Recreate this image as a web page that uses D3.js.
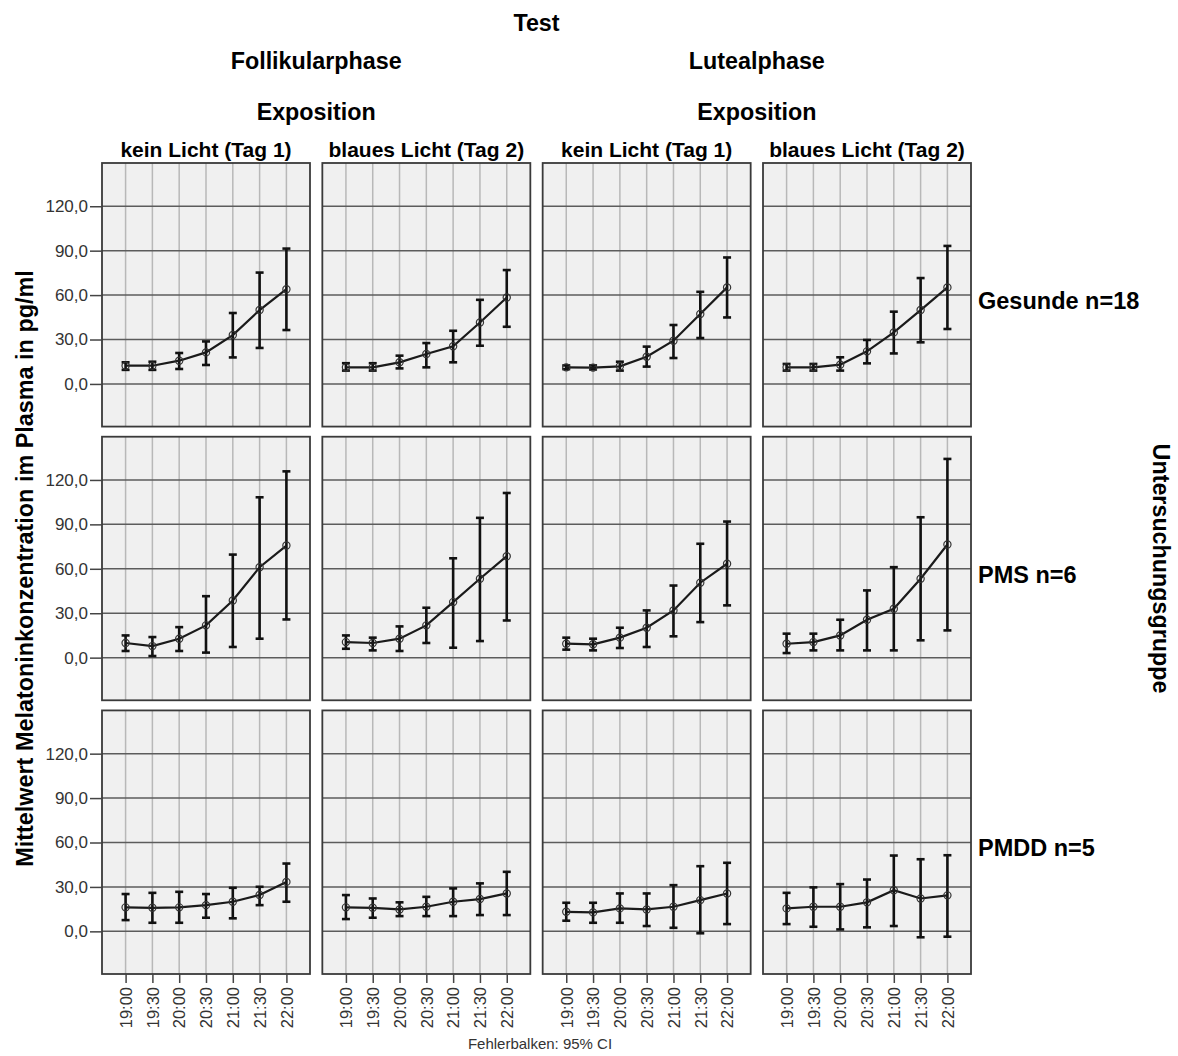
<!DOCTYPE html>
<html>
<head>
<meta charset="utf-8">
<script src="https://cdn.jsdelivr.net/npm/d3@7"></script>
<style>
  body { margin: 0; background: #fff; }
  text { font-family: Arial, "Liberation Sans", sans-serif; }
</style>
</head>
<body>
<svg id="chart" width="1178" height="1056"></svg>
<script>
const times = ['19:00', '19:30', '20:00', '20:30', '21:00', '21:30', '22:00'];
const phases = ['Follikularphase', 'Lutealphase'];
const exposures = ['kein Licht (Tag 1)', 'blaues Licht (Tag 2)'];
const groups = ['Gesunde n=18', 'PMS n=6', 'PMDD n=5'];
const yTicks = [0, 30, 60, 90, 120];

// one row per column panel: Follikular kein/blau, Luteal kein/blau
const meanGesunde = [
  [12.3, 12.3, 15.7, 21.3, 33.0, 49.9, 64.0],
  [11.2, 11.2, 14.6, 20.2, 25.4, 41.5, 58.4],
  [11.2, 11.0, 11.9, 18.4, 29.2, 47.2, 65.2],
  [11.2, 11.2, 13.0, 22.0, 34.8, 49.9, 65.2]
];
const lowGesunde = [
  [9.5, 9.5, 10.1, 12.8, 17.9, 24.3, 36.4],
  [9.0, 9.0, 10.5, 11.2, 14.6, 25.8, 38.6],
  [10.0, 9.8, 9.0, 11.7, 17.5, 31.0, 44.9],
  [9.0, 9.0, 9.0, 13.9, 20.6, 28.1, 37.1]
];
const highGesunde = [
  [14.6, 15.0, 20.9, 28.7, 47.9, 75.2, 91.4],
  [14.0, 14.0, 19.1, 27.6, 35.9, 56.8, 76.9],
  [12.5, 12.5, 15.0, 25.2, 39.8, 62.2, 85.4],
  [13.5, 13.5, 18.0, 29.7, 48.8, 71.5, 93.2]
];

const meanPMS = [
  [9.9, 7.8, 12.8, 21.8, 38.6, 61.1, 75.7],
  [10.5, 9.9, 12.8, 21.8, 37.5, 53.3, 68.5],
  [9.4, 9.0, 13.5, 20.2, 31.9, 50.6, 63.4],
  [9.4, 10.5, 15.0, 25.6, 33.0, 53.3, 76.4]
];
const lowPMS = [
  [4.5, 1.1, 4.5, 3.4, 7.2, 12.8, 25.8],
  [6.0, 4.9, 4.5, 9.9, 6.7, 11.2, 25.1],
  [5.4, 4.9, 6.5, 7.2, 14.4, 24.0, 35.3],
  [3.1, 4.9, 4.9, 4.9, 4.9, 11.7, 18.4]
];
const highPMS = [
  [15.0, 13.9, 20.6, 41.5, 69.6, 108.3, 125.8],
  [15.0, 13.5, 21.1, 33.7, 67.1, 94.4, 111.2],
  [13.5, 12.8, 20.2, 31.9, 48.7, 76.9, 91.9],
  [16.2, 16.2, 25.6, 45.4, 61.1, 94.8, 134.2]
];

const meanPMDD = [
  [16.2, 15.9, 16.2, 17.7, 20.0, 24.5, 33.4],
  [16.2, 15.9, 14.8, 16.6, 20.0, 21.8, 25.6],
  [13.2, 12.8, 15.5, 14.8, 16.6, 21.1, 25.6],
  [15.5, 16.6, 16.6, 19.6, 27.8, 22.2, 24.3]
];
const lowPMDD = [
  [7.6, 5.8, 5.8, 9.2, 8.8, 17.7, 20.0],
  [8.3, 9.2, 10.3, 10.3, 10.3, 11.0, 11.0],
  [7.2, 5.8, 5.8, 3.6, 2.4, -1.3, 4.9],
  [4.9, 3.1, 1.3, 2.7, 3.6, -4.0, -3.6]
];
const highPMDD = [
  [25.2, 26.0, 26.7, 25.2, 29.4, 30.1, 45.8],
  [24.5, 22.2, 19.6, 23.3, 29.0, 32.4, 40.2],
  [19.3, 19.3, 25.6, 25.6, 31.2, 44.0, 46.3],
  [26.0, 29.7, 31.9, 35.0, 51.2, 48.7, 51.4]
];

const means = [meanGesunde, meanPMS, meanPMDD];
const lows = [lowGesunde, lowPMS, lowPMDD];
const highs = [highGesunde, highPMS, highPMDD];

const svg = d3.select('#chart');

const colIds = [0, 1, 2, 3];
const col = d3.scaleBand()
  .domain(colIds)
  .range([102, 971])
  .paddingInner(0.056);

const row = d3.scaleBand()
  .domain([0, 1, 2])
  .range([163, 974])
  .paddingInner(0.037);

const pw = col.bandwidth();
const ph = row.bandwidth();

const x = d3.scalePoint()
  .domain(times)
  .range([0, pw])
  .padding(0.88);

const y = d3.scaleLinear()
  .domain([-28.8, 149.2])
  .range([ph, 0]);

const line = d3.line()
  .x(function(d) { return x(d.t); })
  .y(function(d) { return y(d.m); });

// headings above the panels
svg.append('text')
  .attr('x', (col(0) + col(3) + pw) / 2)
  .attr('y', 31)
  .attr('text-anchor', 'middle')
  .style('font-size', '23.3px')
  .style('font-weight', 'bold')
  .text('Test');

phases.forEach(function(p, i) {
  let cx = (col(i * 2) + col(i * 2 + 1) + pw) / 2;
  svg.append('text')
    .attr('x', cx).attr('y', 69)
    .attr('text-anchor', 'middle')
    .style('font-size', '23.3px').style('font-weight', 'bold')
    .text(p);
  svg.append('text')
    .attr('x', cx).attr('y', 120)
    .attr('text-anchor', 'middle')
    .style('font-size', '23.3px').style('font-weight', 'bold')
    .text('Exposition');
});

colIds.forEach(function(c) {
  svg.append('text')
    .attr('x', col(c) + pw / 2)
    .attr('y', 157)
    .attr('text-anchor', 'middle')
    .style('font-size', '21px')
    .style('font-weight', 'bold')
    .text(exposures[c % 2]);
});

// panels
groups.forEach(function(g, r) {
  colIds.forEach(function(c) {
    let panel = svg.append('g')
      .attr('transform', 'translate(' + col(c) + ',' + row(r) + ')');

    panel.append('rect')
      .attr('width', pw)
      .attr('height', ph)
      .attr('fill', '#f0f0f0');

    panel.selectAll('.vgrid').data(times).enter()
      .append('line')
        .attr('x1', function(d) { return x(d); })
        .attr('x2', function(d) { return x(d); })
        .attr('y1', 0)
        .attr('y2', ph)
        .attr('stroke', '#b8b8b8')
        .attr('stroke-width', 1.5);

    panel.selectAll('.hgrid').data(yTicks).enter()
      .append('line')
        .attr('x1', 0)
        .attr('x2', pw)
        .attr('y1', function(d) { return y(d); })
        .attr('y2', function(d) { return y(d); })
        .attr('stroke', '#5c5c5c')
        .attr('stroke-width', 1.5);

    let pts = times.map(function(t, i) {
      return { t: t, m: means[r][c][i], lo: lows[r][c][i], hi: highs[r][c][i] };
    });

    let bars = panel.selectAll('.err').data(pts).enter()
      .append('g');
    bars.append('line')
      .attr('x1', function(d) { return x(d.t); })
      .attr('x2', function(d) { return x(d.t); })
      .attr('y1', function(d) { return y(d.lo); })
      .attr('y2', function(d) { return y(d.hi); })
      .attr('stroke', '#111')
      .attr('stroke-width', 2.6);
    bars.selectAll('.cap')
      .data(function(d) { return [{ t: d.t, v: d.lo }, { t: d.t, v: d.hi }]; })
      .enter().append('line')
        .attr('x1', function(d) { return x(d.t) - 4; })
        .attr('x2', function(d) { return x(d.t) + 4; })
        .attr('y1', function(d) { return y(d.v); })
        .attr('y2', function(d) { return y(d.v); })
        .attr('stroke', '#111')
        .attr('stroke-width', 2.6);

    panel.append('path')
      .datum(pts)
      .attr('d', line)
      .attr('fill', 'none')
      .attr('stroke', '#1a1a1a')
      .attr('stroke-width', 2.2);

    panel.selectAll('.pt').data(pts).enter()
      .append('circle')
        .attr('cx', function(d) { return x(d.t); })
        .attr('cy', function(d) { return y(d.m); })
        .attr('r', 3.6)
        .attr('fill', 'none')
        .attr('stroke', '#333')
        .attr('stroke-width', 1.2);

    panel.append('rect')
      .attr('width', pw)
      .attr('height', ph)
      .attr('fill', 'none')
      .attr('stroke', '#3a3a3a')
      .attr('stroke-width', 1.8);

    if (c === 0) {
      let ax = svg.append('g')
        .attr('transform', 'translate(' + col(0) + ',' + row(r) + ')')
        .call(d3.axisLeft(y).tickValues(yTicks).tickSize(12).tickPadding(2)
          .tickFormat(function(d) { return d3.format('.1f')(d).replace('.', ','); }));
      ax.select('.domain').remove();
      ax.selectAll('line').attr('stroke', '#444').attr('stroke-width', 1.5);
      ax.selectAll('text')
        .attr('fill', '#333')
        .style('font-size', '17px')
        .style('font-family', 'Arial, "Liberation Sans", sans-serif');
    }

    if (r === 2) {
      let bx = svg.append('g')
        .attr('transform', 'translate(' + col(c) + ',' + (row(2) + ph) + ')')
        .call(d3.axisBottom(x).tickSize(9).tickPadding(4));
      bx.select('.domain').remove();
      bx.selectAll('line').attr('stroke', '#444').attr('stroke-width', 1.5);
      bx.selectAll('text')
        .attr('fill', '#333')
        .attr('transform', 'rotate(-90)')
        .attr('text-anchor', 'end')
        .attr('x', -13)
        .attr('y', 0)
        .attr('dy', '0.35em')
        .style('font-size', '16.5px')
        .style('font-family', 'Arial, "Liberation Sans", sans-serif');
    }
  });

  svg.append('text')
    .attr('x', 978)
    .attr('y', row(r) + ph / 2 + 14)
    .style('font-size', '23.5px')
    .style('font-weight', 'bold')
    .text(g);
});

svg.append('text')
  .attr('transform', 'translate(33,' + (row(0) + row(2) + ph) / 2 + ') rotate(-90)')
  .attr('text-anchor', 'middle')
  .style('font-size', '23.4px')
  .style('font-weight', 'bold')
  .text('Mittelwert Melatoninkonzentration im Plasma in pg/ml');

svg.append('text')
  .attr('transform', 'translate(1153,' + (row(0) + row(2) + ph) / 2 + ') rotate(90)')
  .attr('text-anchor', 'middle')
  .style('font-size', '23.3px')
  .style('font-weight', 'bold')
  .text('Untersuchungsgruppe');

svg.append('text')
  .attr('x', 540)
  .attr('y', 1049)
  .attr('text-anchor', 'middle')
  .attr('fill', '#333')
  .style('font-size', '15px')
  .text('Fehlerbalken: 95% CI');
</script>
</body>
</html>
